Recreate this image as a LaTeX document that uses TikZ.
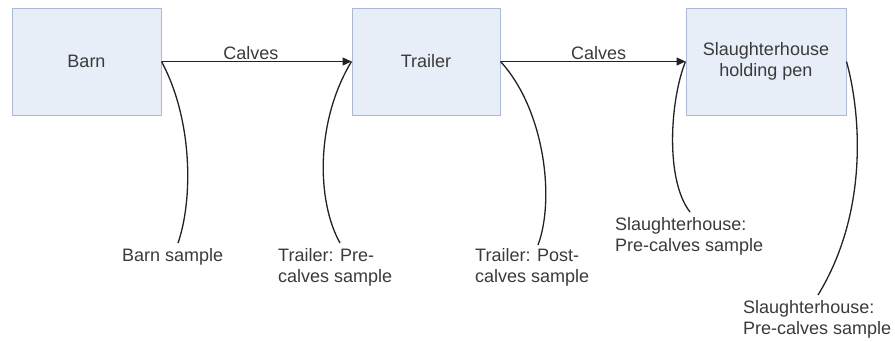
\documentclass[tikz,border=0pt]{standalone}
\usepackage{fontspec}
\setmainfont{Liberation Sans}
\usetikzlibrary{arrows.meta}
\definecolor{boxfill}{HTML}{E8EEF8}
\definecolor{boxline}{HTML}{A9B9D6}
\definecolor{ink}{HTML}{3A3A3A}
\definecolor{wire}{HTML}{222222}
\begin{document}
\begin{tikzpicture}[x=1pt,y=-1pt,
  every node/.style={font=\fontsize{18}{21}\selectfont, text=ink},
  stagebox/.style={draw=boxline, fill=boxfill, line width=1pt, minimum height=107pt, align=center, inner sep=0pt},
  flow/.style={draw=wire, line width=1.3pt, -{Triangle[length=9pt,width=8pt]}},
  lead/.style={draw=wire, line width=1.3pt},
  note/.style={anchor=north west, inner sep=0pt, align=left}]
\useasboundingbox (0,0) rectangle (895,341);

% stages of the transport chain
\node[stagebox, minimum width=149pt] (barn) at (86.5,61.5) {Barn};
\node[stagebox, minimum width=148pt] (trailer) at (426,61.5) {Trailer};
\node[stagebox, minimum width=160pt] (pen) at (766,61.5) {Slaughterhouse\\holding pen};

% movement of the calves
\draw[flow] (barn.east) -- node[above, inner sep=1.5pt, pos=0.47] (c1) {Calves} (trailer.west);
\draw[flow] (trailer.east) -- node[above, inner sep=1.5pt, pos=0.53] (c2) {Calves} (pen.west);

% sampling points
\node[note] (bs) at (122,248) {Barn sample};
\node[note] (tpre) at (278,248) {Trailer: Pre-\\calves sample};
\node[note] (tpost) at (475,248) {Trailer: Post-\\calves sample};
\node[note] (spre) at (615,217) {Slaughterhouse:\\Pre-calves sample};
\node[note] (spost) at (743,300) {Slaughterhouse:\\Pre-calves sample};

\coordinate (bsEnd) at (178,243);
\coordinate (tpreEnd) at (340,243);
\coordinate (tpostEnd) at (538,245);
\coordinate (spreEnd) at (690,212);
\coordinate (spostEnd) at (818,295);

% leader lines from the stages to the samples
\draw[lead] (barn.east) .. controls (193,120) and (193,200) .. (bsEnd);
\draw[lead] (trailer.west) .. controls (316,120) and (316,200) .. (tpreEnd);
\draw[lead] (trailer.east) .. controls (545,110) and (555,200) .. (tpostEnd);
\draw[lead] (pen.west) .. controls (670,100) and (665,180) .. (spreEnd);
\draw[lead] (pen.east) .. controls (860,110) and (870,210) .. (spostEnd);
\end{tikzpicture}
\end{document}
